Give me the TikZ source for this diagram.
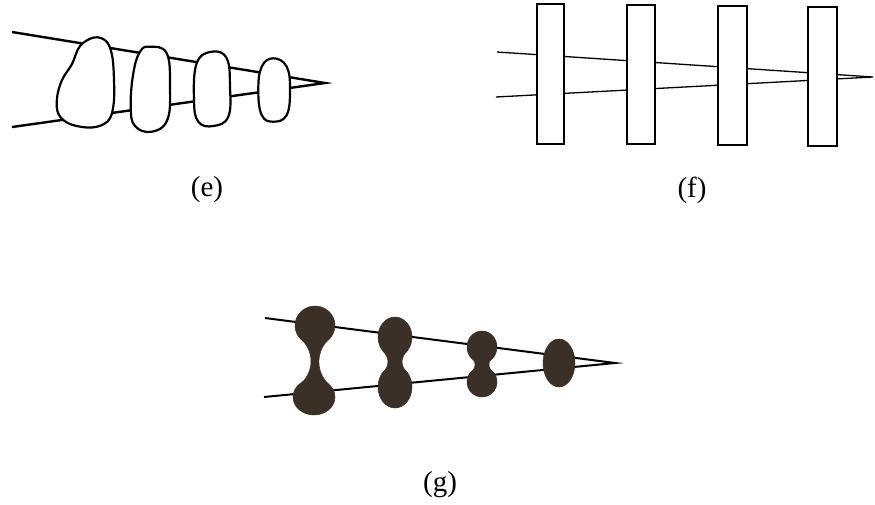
\documentclass[tikz,border=0pt]{standalone}
\usepackage{fontspec}
\setmainfont{Liberation Serif}
\begin{document}
\begin{tikzpicture}[x=1pt,y=-1pt,
  eline/.style={line width=2.4pt},
  eblob/.style={line width=2.2pt, fill=white, line join=round},
  fline/.style={line width=1.3pt},
  frect/.style={line width=1.6pt, fill=white},
  gline/.style={line width=2pt},
  gfill/.style={fill=blobbrown, draw=blobbrown, line width=0.5pt},
  lbl/.style={font=\fontsize{29}{31}\selectfont, anchor=base, inner sep=0pt}]
\definecolor{blobbrown}{RGB}{58,48,40}
\useasboundingbox (0,0) rectangle (875,504);
% ---------- (e) ----------
\coordinate (etip) at (325,83);
\coordinate (eu) at (12,32);
\coordinate (el) at (12,127);
\draw[eline] (eu) -- (etip) -- (el);
\draw[eblob] plot[smooth cycle, tension=0.6] coordinates {(94,37.5) (106,41) (112,55) (114,80) (113.5,105) (108,121) (92,127.5) (70,124) (58.5,114) (57,98) (62,80) (72,64) (80,46)};
\draw[eblob] plot[smooth cycle, tension=0.7] coordinates {(150,46.7) (166.7,53.3) (170,86.7) (167.3,120) (151.7,131.7) (135,126) (130.7,106.7) (133.3,73.3) (140,51.7)};
\draw[eblob] plot[smooth cycle, tension=0.7] coordinates {(211.7,51.7) (226.7,58.3) (230,86.7) (228.3,116.7) (213.3,126) (198.3,121.7) (194,100) (196.7,63.3)};
\draw[eblob] plot[smooth cycle, tension=0.7] coordinates {(273.3,58.3) (286.7,66.7) (290,90) (286.7,115) (273.3,121.7) (261.7,115) (258.3,90) (261.7,66.7)};
\node[lbl] (le) at (207,196) {(e)};
% ---------- (f) ----------
\coordinate (ftip) at (873,77);
\coordinate (fu) at (497,52);
\coordinate (fl) at (496,97);
\draw[fline] (fu) -- (ftip) -- (fl);
\draw[frect] (537,4) rectangle (564,144);
\draw[frect] (627,5) rectangle (655,144);
\draw[frect] (718,6) rectangle (747,145);
\draw[frect] (808,7) rectangle (837,146);
\node[lbl] (lf) at (692,197) {(f)};
% ---------- (g) ----------
\coordinate (gtip) at (615,363);
\coordinate (gu) at (265,318);
\coordinate (gl) at (264,397);
\draw[gline] (gu) -- (gtip) -- (gl);
% dumbbell 1
\filldraw[gfill] (315,325.5) ellipse [x radius=20, y radius=19.5];
\filldraw[gfill] (314,397) ellipse [x radius=21, y radius=18];
\filldraw[gfill] (302,340) .. controls (314.2,352) and (314.2,372) .. (300.5,384) -- (328.5,384) .. controls (315.8,372) and (315.8,352) .. (328,340) -- cycle;
% dumbbell 2
\filldraw[gfill] (395,337) ellipse [x radius=17, y radius=20];
\filldraw[gfill] (395,387) ellipse [x radius=17, y radius=21];
\filldraw[gfill] (382.1,350) .. controls (390,358) and (390,366) .. (381.7,374) -- (408.3,374) .. controls (400,366) and (400,358) .. (407.9,350) -- cycle;
% dumbbell 3
\filldraw[gfill] (482,347) ellipse [x radius=15, y radius=16];
\filldraw[gfill] (482,382) ellipse [x radius=15, y radius=15];
\filldraw[gfill] (469,355) .. controls (477,361) and (477,368) .. (469.3,374) -- (494.7,374) .. controls (487,368) and (487,361) .. (495,355) -- cycle;
% blob 4
\filldraw[gfill] (559,363) ellipse [x radius=16, y radius=24];
\node[lbl] (lg) at (440,491) {(g)};
\end{tikzpicture}
\end{document}
